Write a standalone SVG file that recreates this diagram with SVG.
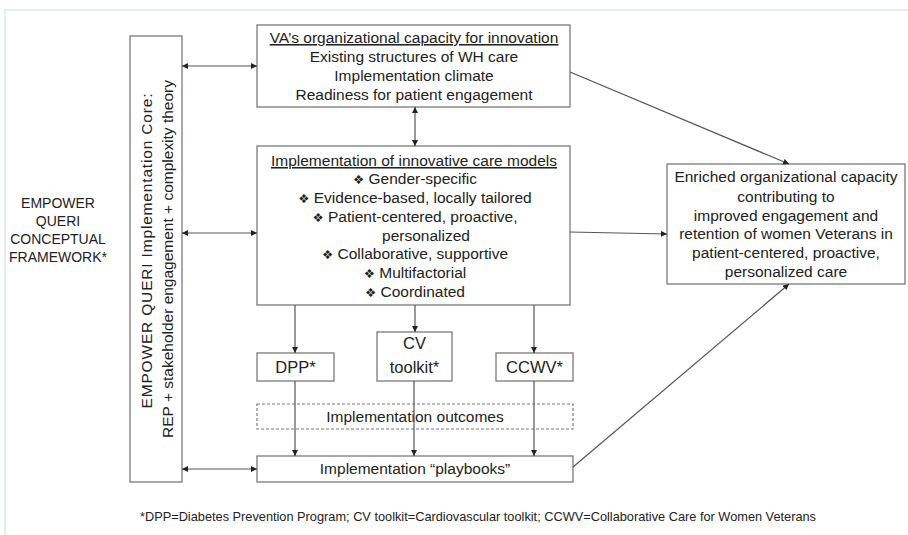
<svg xmlns="http://www.w3.org/2000/svg" width="908" height="535" viewBox="0 0 908 535">
<defs>
<style>
.box{fill:#fff;stroke:#7a7a7a;stroke-width:1.3}
.dash{fill:none;stroke:#7a7a7a;stroke-width:1.2;stroke-dasharray:3,2}
.t{font-family:"Liberation Sans",Arial,sans-serif;font-size:15.5px;fill:#222;text-anchor:middle}
.big{font-size:16.5px}
.b{font-family:"DejaVu Sans",sans-serif;font-size:12.5px}
.c{stroke:#555;stroke-width:1.2;fill:none}
</style>
<marker id="ah" viewBox="0 0 10 10" refX="10" refY="5" markerWidth="6" markerHeight="6" markerUnits="userSpaceOnUse" orient="auto-start-reverse">
<path d="M0,0 L10,5 L0,10 z" fill="#222"/>
</marker>
</defs>
<rect width="908" height="535" fill="#fff"/>
<path d="M5,535 V10 H908" fill="none" stroke="#dce6f6" stroke-width="1.5"/>

<g id="framework-label">
<text class="t" style="font-size:14px"><tspan x="58" y="208">EMPOWER</tspan><tspan x="58" y="226">QUERI</tspan><tspan x="58" y="244">CONCEPTUAL</tspan><tspan x="58" y="262">FRAMEWORK*</tspan></text>
</g>

<g id="core">
<rect class="box" x="130" y="36" width="52" height="446"/>
<text class="t" transform="translate(152,251) rotate(-90)" textLength="315" lengthAdjust="spacing">EMPOWER QUERI Implementation  Core:</text>
<text class="t" transform="translate(173,259) rotate(-90)" textLength="358" lengthAdjust="spacing">REP + stakeholder engagement + complexity  theory</text>
</g>

<g id="capacity">
<rect class="box" x="257" y="25" width="313" height="82"/>
<text class="t" x="414" y="43" text-decoration="underline">VA’s organizational  capacity for innovation</text>
<text class="t" x="414" y="62">Existing structures of WH care</text>
<text class="t" x="414" y="81">Implementation  climate</text>
<text class="t" x="414" y="100">Readiness for patient engagement</text>
</g>

<g id="models">
<rect class="box" x="257" y="146" width="313" height="159"/>
<text class="t" x="414" y="166" text-decoration="underline">Implementation  of innovative care models</text>
<text class="t" x="415" y="184"><tspan class="b">❖</tspan>  Gender-specific</text>
<text class="t" x="415" y="203"><tspan class="b">❖</tspan>  Evidence-based, locally tailored</text>
<text class="t" x="415" y="222"><tspan class="b">❖</tspan>  Patient-centered, proactive,</text>
<text class="t" x="426" y="241">personalized</text>
<text class="t" x="415" y="259"><tspan class="b">❖</tspan>  Collaborative, supportive</text>
<text class="t" x="415" y="278"><tspan class="b">❖</tspan>  Multifactorial</text>
<text class="t" x="415" y="297"><tspan class="b">❖</tspan>  Coordinated</text>
</g>

<g id="enriched">
<rect class="box" x="667" y="164" width="238" height="120"/>
<text class="t"><tspan x="786" y="182">Enriched organizational capacity</tspan><tspan x="786" y="202">contributing to</tspan><tspan x="786" y="221">improved engagement and</tspan><tspan x="786" y="239">retention of women Veterans in</tspan><tspan x="786" y="258">patient-centered, proactive,</tspan><tspan x="786" y="277">personalized care</tspan></text>
</g>

<g id="dpp">
<rect class="box" x="257" y="353" width="77" height="28"/>
<text class="t big" x="295.5" y="373">DPP*</text>
</g>
<g id="cv">
<rect class="box" x="377" y="332" width="75" height="49"/>
<text class="t big" x="414.5" y="349">CV</text>
<text class="t big" x="414.5" y="373">toolkit*</text>
</g>
<g id="ccwv">
<rect class="box" x="496" y="353" width="77" height="28"/>
<text class="t big" x="534.5" y="373">CCWV*</text>
</g>

<g id="outcomes">
<rect class="dash" x="257" y="404" width="316" height="25"/>
<text class="t" x="415" y="422">Implementation  outcomes</text>
</g>

<g id="playbooks">
<rect class="box" x="257" y="456" width="316" height="26"/>
<text class="t" x="415" y="474">Implementation  “playbooks”</text>
</g>

<g id="connectors">
<line class="c" x1="182" y1="66" x2="257" y2="66" marker-start="url(#ah)" marker-end="url(#ah)"/>
<line class="c" x1="182" y1="233" x2="257" y2="233" marker-start="url(#ah)" marker-end="url(#ah)"/>
<line class="c" x1="182" y1="469" x2="257" y2="469" marker-start="url(#ah)" marker-end="url(#ah)"/>
<line class="c" x1="415" y1="107" x2="415" y2="146" marker-start="url(#ah)" marker-end="url(#ah)"/>
<line class="c" x1="570" y1="72" x2="789" y2="164" marker-end="url(#ah)"/>
<line class="c" x1="570" y1="232" x2="667" y2="234" marker-end="url(#ah)"/>
<line class="c" x1="573" y1="467" x2="789" y2="284" marker-end="url(#ah)"/>
<line class="c" x1="295" y1="305" x2="295" y2="353" marker-end="url(#ah)"/>
<line class="c" x1="415" y1="305" x2="415" y2="332" marker-end="url(#ah)"/>
<line class="c" x1="534" y1="305" x2="534" y2="353" marker-end="url(#ah)"/>
<line class="c" x1="295" y1="381" x2="295" y2="456" marker-end="url(#ah)"/>
<line class="c" x1="414" y1="381" x2="414" y2="456" marker-end="url(#ah)"/>
<line class="c" x1="534" y1="381" x2="534" y2="456" marker-end="url(#ah)"/>
</g>

<g id="footnote">
<text class="t" x="478" y="521" style="font-size:13.5px" textLength="676" lengthAdjust="spacingAndGlyphs">*DPP=Diabetes Prevention Program; CV toolkit=Cardiovascular toolkit; CCWV=Collaborative Care for Women Veterans</text>
</g>
</svg>
